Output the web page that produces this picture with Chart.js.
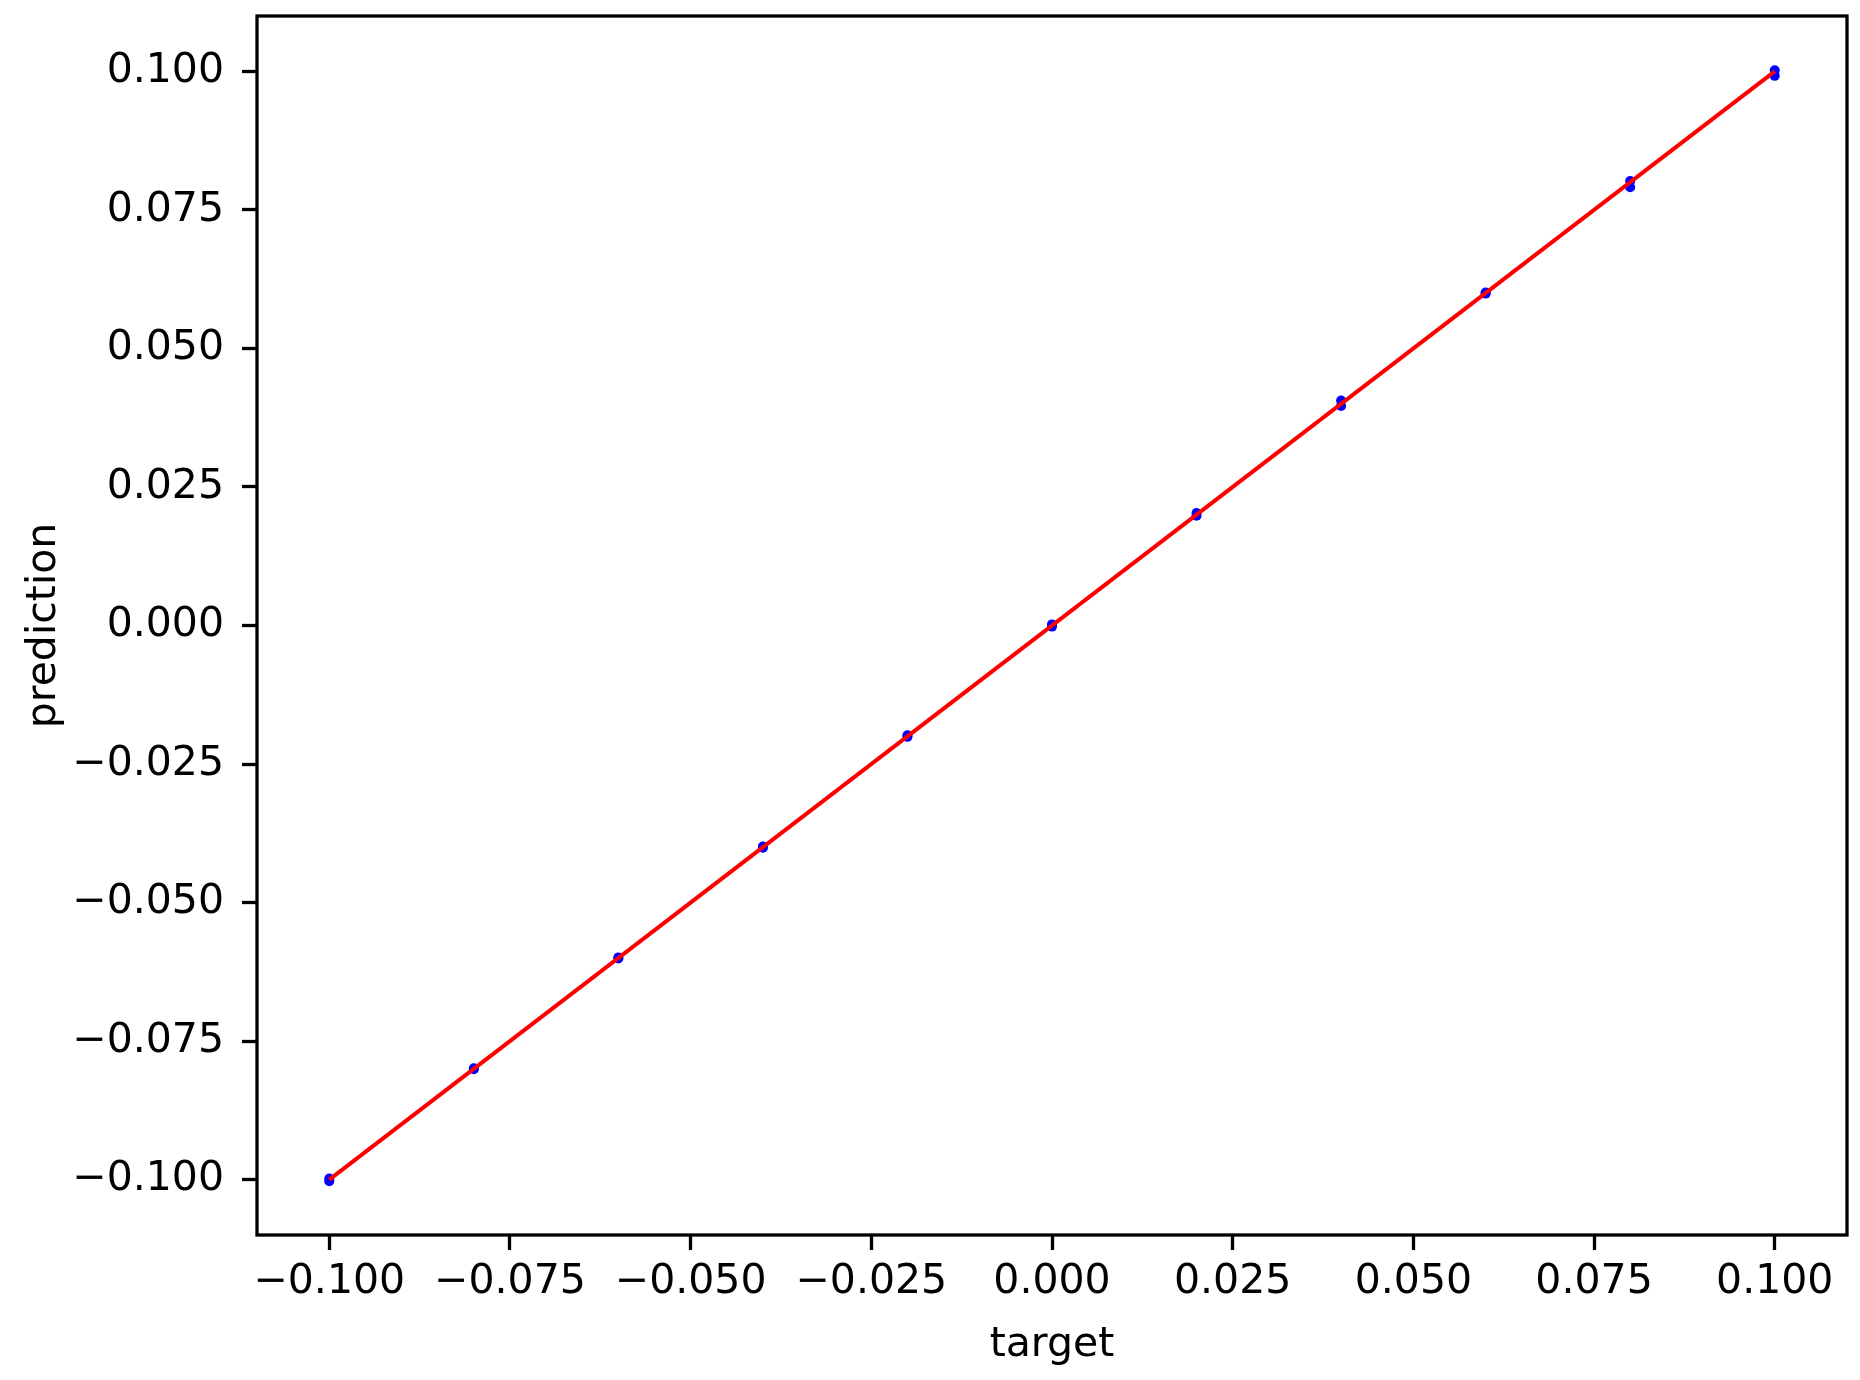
<!DOCTYPE html>
<html>
<head>
<meta charset="utf-8">
<script src="https://cdn.jsdelivr.net/npm/chart.js@4/dist/chart.umd.min.js"></script>
<style>
  html, body { margin: 0; padding: 0; background: #ffffff; }
  #wrap { width: 1860px; height: 1380px; }
</style>
</head>
<body>
<div id="wrap"><canvas id="chart" width="1860" height="1380"></canvas></div>
<script>
// --- data ---
const targets = [-0.1, -0.1, -0.08, -0.08, -0.06, -0.06, -0.04, -0.04, -0.02, -0.02,
                 0, 0, 0.02, 0.02, 0.04, 0.04, 0.06, 0.06, 0.08, 0.08, 0.1, 0.1];
const predictions = [-0.1003, -0.0998, -0.0801, -0.0799, -0.0601, -0.0599, -0.0401, -0.0399, -0.0201, -0.0198,
                     -0.0002, 0.0002, 0.0198, 0.0203, 0.0396, 0.0406, 0.0599, 0.0601, 0.0791, 0.0802, 0.0992, 0.1002];
const idealLine = [-0.1, 0.1];
const tickValues = [-0.1, -0.075, -0.05, -0.025, 0, 0.025, 0.05, 0.075, 0.1];
const axisMin = -0.11;
const axisMax = 0.11;

const FONT = "'DejaVu Sans', sans-serif";

const fmt = (v) => v.toFixed(3).replace('-', '\u2212');

// frame around the plot area, like matplotlib spines
const framePlugin = {
  id: 'frame',
  afterDraw(chart) {
    const { ctx, chartArea: a } = chart;
    ctx.save();
    ctx.strokeStyle = '#000000';
    ctx.lineWidth = 3.3;
    ctx.strokeRect(a.left, a.top, a.right - a.left, a.bottom - a.top);
    ctx.restore();
  }
};

const axisCommon = {
  type: 'linear',
  min: axisMin,
  max: axisMax,
  border: { display: false },
  grid: {
    drawOnChartArea: false,
    drawTicks: true,
    tickLength: 15,
    tickWidth: 3.3,
    tickColor: '#000000'
  },
  afterBuildTicks: (scale) => {
    scale.ticks = tickValues.map(v => ({ value: v }));
  }
};

new Chart(document.getElementById('chart'), {
  data: {
    datasets: [
      {
        type: 'line',
        data: idealLine.map(v => ({ x: v, y: v })),
        borderColor: '#ff0000',
        borderWidth: 4,
        pointRadius: 0,
        fill: false,
        order: 0
      },
      {
        type: 'scatter',
        data: targets.map((t, i) => ({ x: t, y: predictions[i] })),
        backgroundColor: '#0000ff',
        borderWidth: 0,
        pointRadius: 5,
        order: 1
      }
    ]
  },
  options: {
    responsive: false,
    animation: false,
    layout: { padding: { top: 16, right: 13, left: 0, bottom: 0 } },
    plugins: {
      legend: { display: false },
      tooltip: { enabled: false }
    },
    scales: {
      x: {
        ...axisCommon,
        position: 'bottom',
        ticks: {
          color: '#000000',
          font: { family: FONT, size: 41 },
          padding: 8,
          maxRotation: 0,
          autoSkip: false,
          callback: (v) => fmt(v)
        },
        title: {
          display: true,
          text: 'target',
          color: '#000000',
          font: { family: FONT, size: 41 },
          padding: { top: 4, bottom: 10 }
        },
        afterFit: (scale) => {
          scale.height = 145;
          scale.paddingLeft = 0;
          scale.paddingRight = 0;
        }
      },
      y: {
        ...axisCommon,
        position: 'left',
        ticks: {
          color: '#000000',
          font: { family: FONT, size: 41 },
          padding: 18,
          autoSkip: false,
          callback: (v) => fmt(v)
        },
        title: {
          display: true,
          text: 'prediction',
          color: '#000000',
          font: { family: FONT, size: 41 },
          padding: { top: 20, bottom: 0 }
        },
        afterFit: (scale) => {
          scale.width = 257;
          scale.paddingTop = 0;
          scale.paddingBottom = 0;
        }
      }
    }
  },
  plugins: [framePlugin]
});
</script>
</body>
</html>
